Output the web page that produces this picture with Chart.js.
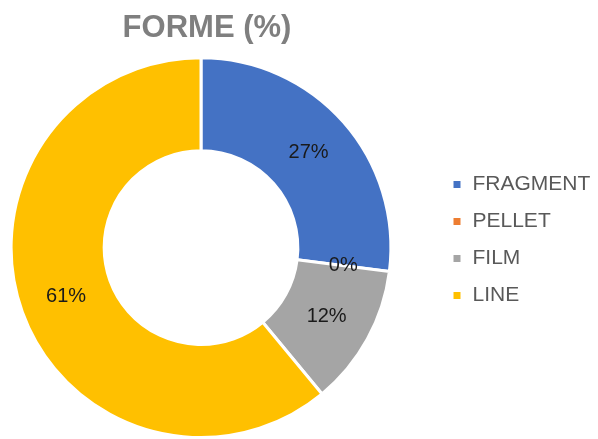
<!DOCTYPE html>
<html>
<head>
<meta charset="utf-8">
<script src="https://cdn.jsdelivr.net/npm/chart.js@4"></script>
<style>
  html, body { margin: 0; padding: 0; background: #fff; }
  #wrap { width: 598px; height: 439px; }
</style>
</head>
<body>
<div id="wrap"><canvas id="formeChart"></canvas></div>
<script>
// données
const labels = ["FRAGMENT", "PELLET", "FILM", "LINE"];
const values = [27, 0, 12, 61];
const colors = ["#4472C4", "#ED7D31", "#A5A5A5", "#FFC000"];

// étiquettes % au milieu de chaque secteur
const sliceLabels = {
  id: "sliceLabels",
  afterDatasetsDraw(chart) {
    const ctx = chart.ctx;
    const meta = chart.getDatasetMeta(0);
    ctx.save();
    ctx.font = "20px 'Liberation Sans', Arial, sans-serif";
    ctx.fillStyle = "#1a1a1a";
    ctx.textAlign = "center";
    ctx.textBaseline = "middle";
    meta.data.forEach((arc, i) => {
      const p = arc.tooltipPosition();
      ctx.fillText(Math.round(values[i]) + "%", p.x, p.y);
    });
    ctx.restore();
  }
};

// légende décalée à droite, comme dans Excel
const legendShift = {
  id: "legendShift",
  beforeLayout(chart) {
    const lg = chart.legend;
    if (lg && !lg._wrapped) {
      const fit = lg.fit;
      lg.fit = function () { fit.call(this); this.width = 203; };
      lg._wrapped = true;
    }
  },
  afterLayout(chart) {
    const lg = chart.legend;
    lg.left = 436;
    lg.right = 598;
    lg.top += 19;
    lg.bottom += 19;
    const t = chart.titleBlock;
    t.left += 6;
    t.right += 6;
  }
};

new Chart(document.getElementById("formeChart"), {
  type: "doughnut",
  data: {
    labels: labels,
    datasets: [{
      data: values,
      backgroundColor: colors,
      borderColor: "#ffffff",
      borderWidth: 3
    }]
  },
  options: {
    responsive: true,
    maintainAspectRatio: false,
    animation: false,
    cutout: "51%",
    layout: { padding: { left: 7, right: 0, top: 0, bottom: -3 } },
    plugins: {
      title: {
        display: true,
        text: "FORME (%)",
        color: "#7f7f7f",
        fullSize: false,
        font: { family: "'Liberation Sans', Arial, sans-serif", size: 31, weight: "bold" },
        padding: { top: 10, bottom: 9 }
      },
      legend: {
        position: "right",
        labels: {
          color: "#595959",
          boxWidth: 10,
          boxHeight: 10,
          padding: 16,
          font: { family: "'Liberation Sans', Arial, sans-serif", size: 21 }
        }
      },
      tooltip: { enabled: false }
    }
  },
  plugins: [sliceLabels, legendShift]
});
</script>
</body>
</html>
